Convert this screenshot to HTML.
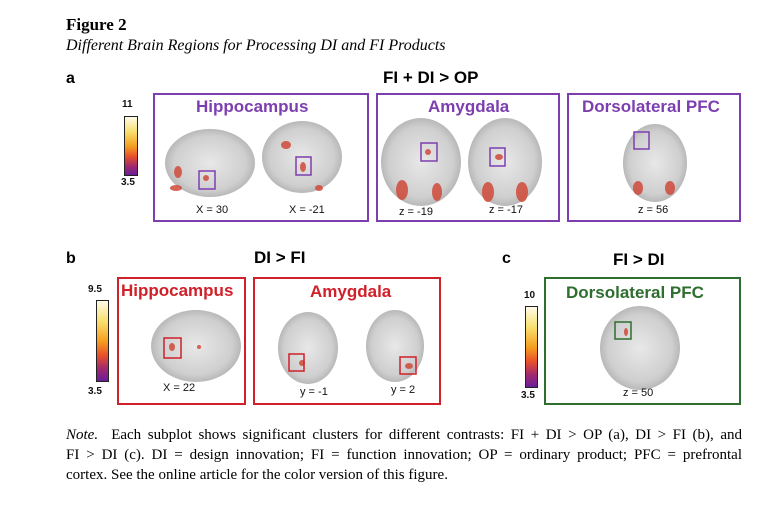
<!DOCTYPE html>
<html><head><style>
body{margin:0;width:784px;height:511px;background:#fff;position:relative;overflow:hidden}
.a{position:absolute;white-space:nowrap}
.s{font-family:"Liberation Sans",sans-serif;font-weight:bold}
.ser{font-family:"Liberation Serif",serif}
.box{position:absolute;box-sizing:border-box;border:2px solid}
.cb{position:absolute;border:1.5px solid #222;box-sizing:border-box;background:linear-gradient(to bottom,#fffbe8,#f8e070 25%,#f5a020 50%,#e8502a 68%,#a02870 85%,#6a1e9a)}
.lab{font-family:"Liberation Sans",sans-serif;font-size:11px;color:#111}
.j{display:block;text-align:justify;text-align-last:justify}
</style></head><body>
<div class="a ser" style="left:66px;top:15px;font-size:17px;font-weight:bold">Figure 2</div>
<div class="a ser" style="left:66px;top:37px;font-size:16px;font-style:italic">Different Brain Regions for Processing DI and FI Products</div>
<div class="a s" style="left:66px;top:70px;font-size:16px">a</div>
<div class="a s" style="left:383px;top:68px;font-size:17px">FI + DI &gt; OP</div>
<div class="a lab" style="left:122px;top:99px;font-weight:bold;font-size:10px">11</div>
<div class="cb" style="left:124px;top:116px;width:14px;height:60px"></div>
<div class="a lab" style="left:121px;top:177px;font-weight:bold;font-size:10px">3.5</div>
<div class="box" style="left:153px;top:93px;width:216px;height:129px;border-color:#7d3fb0"></div>
<div class="box" style="left:376px;top:93px;width:184px;height:129px;border-color:#7d3fb0"></div>
<div class="box" style="left:567px;top:93px;width:174px;height:129px;border-color:#7d3fb0"></div>
<div class="a s" style="left:196px;top:97px;font-size:17px;color:#7d3fb0">Hippocampus</div>
<div class="a s" style="left:428px;top:97px;font-size:17px;color:#7d3fb0">Amygdala</div>
<div class="a s" style="left:582px;top:97px;font-size:17px;color:#7d3fb0">Dorsolateral PFC</div>
<svg class="a" style="left:0;top:0" width="784" height="511">
<defs><radialGradient id="g"><stop offset="0" stop-color="#e8e8e8"/><stop offset=".8" stop-color="#cfcfcf"/><stop offset="1" stop-color="#b8b8b8"/></radialGradient></defs>
<g fill="url(#g)">
<ellipse cx="210" cy="163" rx="45" ry="34"/><ellipse cx="302" cy="157" rx="40" ry="36"/>
<ellipse cx="421" cy="162" rx="40" ry="44"/><ellipse cx="505" cy="162" rx="37" ry="44"/>
<ellipse cx="655" cy="163" rx="32" ry="39"/>
<ellipse cx="196" cy="346" rx="45" ry="36"/>
<ellipse cx="308" cy="348" rx="30" ry="36"/><ellipse cx="395" cy="346" rx="29" ry="36"/>
<ellipse cx="640" cy="348" rx="40" ry="42"/>
</g>
<g fill="#d04a3a" opacity=".85">
<ellipse cx="178" cy="172" rx="4" ry="6"/><ellipse cx="176" cy="188" rx="6" ry="3"/><ellipse cx="206" cy="178" rx="3" ry="3"/>
<ellipse cx="303" cy="167" rx="3" ry="5"/><ellipse cx="319" cy="188" rx="4" ry="3"/><ellipse cx="286" cy="145" rx="5" ry="4"/>
<ellipse cx="402" cy="190" rx="6" ry="10"/><ellipse cx="437" cy="192" rx="5" ry="9"/><ellipse cx="428" cy="152" rx="3" ry="3"/>
<ellipse cx="488" cy="192" rx="6" ry="10"/><ellipse cx="522" cy="192" rx="6" ry="10"/><ellipse cx="499" cy="157" rx="4" ry="3"/>
<ellipse cx="638" cy="188" rx="5" ry="7"/><ellipse cx="670" cy="188" rx="5" ry="7"/>
<ellipse cx="172" cy="347" rx="3" ry="4"/><ellipse cx="199" cy="347" rx="2" ry="2"/>
<ellipse cx="302" cy="363" rx="3" ry="3"/><ellipse cx="409" cy="366" rx="4" ry="3"/><ellipse cx="626" cy="332" rx="2" ry="4"/>
</g>
<g fill="none" stroke-width="1.5">
<rect x="199" y="171" width="16" height="18" stroke="#7d3fb0"/><rect x="296" y="157" width="15" height="18" stroke="#7d3fb0"/>
<rect x="421" y="143" width="16" height="18" stroke="#7d3fb0"/><rect x="490" y="148" width="15" height="18" stroke="#7d3fb0"/>
<rect x="634" y="132" width="15" height="17" stroke="#7d3fb0"/>
<rect x="164" y="338" width="17" height="20" stroke="#d0202a"/>
<rect x="289" y="354" width="15" height="17" stroke="#d0202a"/><rect x="400" y="357" width="16" height="17" stroke="#d0202a"/>
<rect x="615" y="322" width="16" height="17" stroke="#2e6e2e"/>
</g>
</svg>
<div class="a lab" style="left:196px;top:204px">X = 30</div>
<div class="a lab" style="left:289px;top:204px">X = -21</div>
<div class="a lab" style="left:399px;top:206px">z = -19</div>
<div class="a lab" style="left:489px;top:204px">z = -17</div>
<div class="a lab" style="left:638px;top:204px">z = 56</div>
<div class="a s" style="left:66px;top:250px;font-size:16px">b</div>
<div class="a s" style="left:254px;top:248px;font-size:17px">DI &gt; FI</div>
<div class="a s" style="left:502px;top:250px;font-size:16px">c</div>
<div class="a s" style="left:613px;top:250px;font-size:17px">FI &gt; DI</div>
<div class="a lab" style="left:88px;top:284px;font-weight:bold;font-size:10px">9.5</div>
<div class="cb" style="left:96px;top:300px;width:13px;height:82px"></div>
<div class="a lab" style="left:88px;top:386px;font-weight:bold;font-size:10px">3.5</div>
<div class="box" style="left:117px;top:277px;width:129px;height:128px;border-color:#d0202a"></div>
<div class="box" style="left:253px;top:277px;width:188px;height:128px;border-color:#d0202a"></div>
<div class="box" style="left:544px;top:277px;width:197px;height:128px;border-color:#2e6e2e"></div>
<div class="a s" style="left:121px;top:281px;font-size:17px;color:#d0202a">Hippocampus</div>
<div class="a s" style="left:310px;top:282px;font-size:17px;color:#d0202a">Amygdala</div>
<div class="a s" style="left:566px;top:283px;font-size:17px;color:#2e6e2e">Dorsolateral PFC</div>
<div class="a lab" style="left:524px;top:290px;font-weight:bold;font-size:10px">10</div>
<div class="cb" style="left:525px;top:306px;width:13px;height:82px"></div>
<div class="a lab" style="left:521px;top:390px;font-weight:bold;font-size:10px">3.5</div>
<div class="a lab" style="left:163px;top:382px">X = 22</div>
<div class="a lab" style="left:300px;top:386px">y = -1</div>
<div class="a lab" style="left:391px;top:384px">y = 2</div>
<div class="a lab" style="left:623px;top:387px">z = 50</div>
<div class="a ser" style="left:66px;top:425px;font-size:15px;line-height:20px;width:676px;white-space:normal">
<span class="j"><i>Note.</i>&nbsp; Each subplot shows significant clusters for different contrasts: FI + DI &gt; OP (a), DI &gt; FI (b), and</span>
<span class="j">FI &gt; DI (c). DI = design innovation; FI = function innovation; OP = ordinary product; PFC = prefrontal</span>
<span style="display:block">cortex. See the online article for the color version of this figure.</span></div>
</body></html>
